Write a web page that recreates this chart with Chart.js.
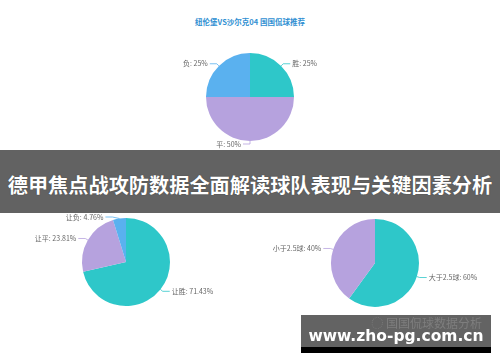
<!DOCTYPE html>
<html>
<head>
<meta charset="utf-8">
<script src="https://cdn.jsdelivr.net/npm/chart.js@4/dist/chart.umd.min.js"></script>
<style>
  body { margin: 0; width: 500px; height: 362px; background: #fff; position: relative; overflow: hidden;
         font-family: "Noto Sans CJK SC", "Noto Sans", sans-serif; }
  canvas { position: absolute; }
  #title { position: absolute; left: 0; width: 500px; top: 16px; text-align: center; font-size: 7.5px;
           font-weight: bold; color: #2f8fd2; line-height: 12px; }
  #banner { position: absolute; left: 0; top: 150px; width: 500px; height: 63px; background: #626262; z-index: 5; }
  #banner span { position: absolute; left: 0; width: 500px; top: 20px; text-align: center; color: #fff;
                 font-size: 20.2px; font-weight: bold; line-height: 30px; text-shadow: 0 0 1px #333; white-space: nowrap; }
  #mark { position: absolute; left: 301px; top: 315px; width: 190px; height: 32px; background: #636363; z-index: 5; }
  #markBar { position: absolute; left: 301px; top: 347px; width: 190px; height: 6px; background: #000; z-index: 5; }
  #mark .faint { position: absolute; right: 9px; top: 0; font-size: 12px; line-height: 16px; color: #7e7e7e; white-space: nowrap; }
  #mark .url { position: absolute; left: 0; width: 190px; top: 11px; text-align: center; color: #fff; white-space: nowrap;
               font-size: 15.5px; font-weight: bold; line-height: 20px; font-family: "DejaVu Sans", sans-serif; }
</style>
</head>
<body>
<div id="title">纽伦堡VS沙尔克04 国国侃球推荐</div>
<canvas id="pie1" width="200" height="120" style="left:150px;top:37px"></canvas>
<canvas id="pie2" width="220" height="120" style="left:16px;top:202px"></canvas>
<canvas id="pie3" width="220" height="120" style="left:265px;top:203px"></canvas>
<div id="banner"><span>德甲焦点战攻防数据全面解读球队表现与关键因素分析</span></div>
<div id="mark"><span class="faint">◌ 国国侃球数据分析</span><span class="url">www.zho-pg.com.cn</span></div>
<div id="markBar"></div>
<script>
// top pie: 胜平负
const resultLabels = ['胜', '平', '负']
const resultValues = [25, 50, 25]
// bottom left: 让球
const handicapLabels = ['让胜', '让平', '让负']
const handicapValues = [71.43, 23.81, 4.76]
// bottom right: 大小球
const goalsLabels = ['大于2.5球', '小于2.5球']
const goalsValues = [60, 40]

const colors = ['#2ec7c9', '#b6a2de', '#5ab1ef']
const goalColors = ['#2ec7c9', '#b6a2de']

// outside labels with a bent leader line, roughly like the original
const pieLabels = {
	id: 'pieLabels',
	afterDatasetsDraw(chart) {
		const ctx = chart.ctx
		const meta = chart.getDatasetMeta(0)
		const values = chart.data.datasets[0].data
		const minY = chart.chartArea.top + 15
		ctx.save()
		ctx.font = '7px "Noto Sans CJK SC", sans-serif'
		ctx.textBaseline = 'middle'
		meta.data.forEach((arc, i) => {
			const { x, y, startAngle, endAngle, outerRadius } = arc.getProps(['x', 'y', 'startAngle', 'endAngle', 'outerRadius'], true)
			const a = (startAngle + endAngle) / 2
			const dir = Math.cos(a) > 0.01 ? 1 : -1
			const R = outerRadius + 3
			const p0 = [x + Math.cos(a) * outerRadius, y + Math.sin(a) * outerRadius]
			let p1 = [x + Math.cos(a) * R, y + Math.sin(a) * R]
			if (p1[1] < minY) {
				const dy = minY - y
				p1 = [x + dir * Math.sqrt(Math.max(R * R - dy * dy, 0)), minY]
			}
			const p2 = [p1[0] + dir * 7, p1[1]]
			ctx.strokeStyle = arc.options.backgroundColor
			ctx.lineWidth = 0.8
			ctx.beginPath()
			ctx.moveTo(p0[0], p0[1])
			ctx.lineTo(p1[0], p1[1])
			ctx.lineTo(p2[0], p2[1])
			ctx.stroke()
			ctx.fillStyle = '#666'
			ctx.textAlign = dir > 0 ? 'left' : 'right'
			ctx.fillText(chart.data.labels[i] + ': ' + values[i] + '%', p2[0] + dir * 2, p2[1])
		})
		ctx.restore()
	},
}

function makePie(id, labels, values, bg) {
	return new Chart(document.getElementById(id), {
		type: 'pie',
		data: {
			labels,
			datasets: [{ data: values, backgroundColor: bg, borderWidth: 0, radius: 44 }],
		},
		options: {
			responsive: false,
			animation: false,
			plugins: { legend: { display: false }, tooltip: { enabled: false } },
		},
		plugins: [pieLabels],
	})
}

makePie('pie1', resultLabels, resultValues, colors)
makePie('pie2', handicapLabels, handicapValues, colors)
makePie('pie3', goalsLabels, goalsValues, goalColors)
</script>
</body>
</html>
